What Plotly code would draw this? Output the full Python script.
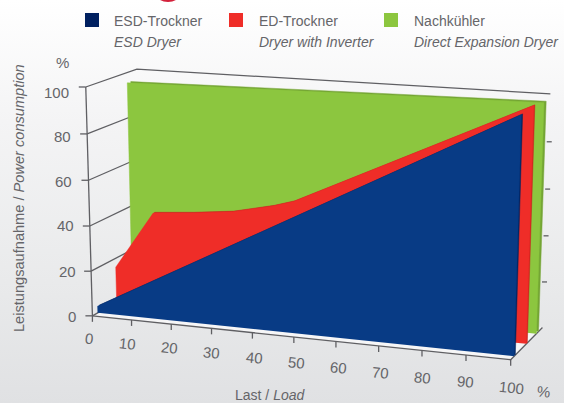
import numpy as np
import plotly.graph_objects as go

# Chart data: percentage power consumption against percentage load
load_esd = [0, 100]
power_esd = [3, 99]
load_ed = [0, 10, 20, 30, 40, 45, 100]
power_ed = [16, 42, 43.5, 45.5, 49.5, 52.2, 99.5]
load_dx = [0, 100]
power_dx = [95.5, 98]

x_ticks = [0, 10, 20, 30, 40, 50, 60, 70, 80, 90, 100]
y_ticks = [0, 20, 40, 60, 80, 100]

series_names = ["ESD-Trockner", "ED-Trockner", "Nachkühler"]
series_names_en = ["ESD Dryer", "Dryer with Inverter", "Direct Expansion Dryer"]

BLUE, BLUE_DARK = "#083b85", "#04245f"
RED, RED_DARK = "#ef2d28", "#c9251f"
GREEN, GREEN_DARK = "#8cc63f", "#74a534"
AXIS = "#5f5f63"
TEXT = "#656569"
FONT = "Liberation Sans"

# Perspective camera fitted to the box corners (load, power, depth) -> page pixels
box_points = [
    (0, 0, 0, 93, 313), (100, 0, 0, 511, 362), (0, 100, 0, 85, 88),
    (0, 100, 1, 138, 68), (100, 100, 1, 550, 94), (100, 0, 1, 542, 325),
    (50, 0, 0, 294, 337), (0, 0, 1, 141, 291), (0, 40, 0, 90, 225),
    (0, 60, 0, 88, 181), (100, 40, 1, 546, 236),
]
rows, rhs = [], []
for u, v, d, px, py in box_points:
    rows.append([u, v, d, 1, 0, 0, 0, 0, -px * u, -px * v, -px * d])
    rows.append([0, 0, 0, 0, u, v, d, 1, -py * u, -py * v, -py * d])
    rhs += [px, py]
camera = np.append(np.linalg.lstsq(np.array(rows, float), np.array(rhs, float), rcond=None)[0], 1).reshape(3, 4)


def project(u, v, d):
    p = camera @ np.array([u, v, d, 1.0])
    return p[0] / p[2], p[1] / p[2]


def path(points):
    xy = [project(*p) for p in points]
    return [a for a, _ in xy], [b for _, b in xy]


fig = go.Figure()


def polygon(points, color):
    x, y = path(points)
    fig.add_trace(go.Scatter(x=x, y=y, mode="lines", fill="toself", fillcolor=color,
                             line=dict(color=color, width=0.5), hoverinfo="skip", showlegend=False))


def segment(points, width=1.3):
    x, y = path(points)
    fig.add_trace(go.Scatter(x=x, y=y, mode="lines", line=dict(color=AXIS, width=width),
                             hoverinfo="skip", showlegend=False))


def area(load, power, depth, thickness, face, side):
    # Extruded area: darker rear face first, front face on top
    for d, color in ((depth + thickness, side), (depth, face)):
        pts = [(load[0], 0, d)] + [(u, v, d) for u, v in zip(load, power)] + [(load[-1], 0, d)]
        polygon(pts, color)


# Page background
fig.add_trace(go.Scatter(
    x=[0, 564, 564, 0, 0], y=[0, 0, 403, 403, 0], mode="lines", fill="toself", line=dict(width=0),
    fillgradient=dict(type="vertical", start=0, stop=403,
                      colorscale=[[0, "#ffffff"], [0.3, "#f4f4f5"], [0.7, "#e9eaeb"], [1, "#e0e1e3"]]),
    hoverinfo="skip", showlegend=False))

# Floor, walls and gridlines
polygon([(0, 0, 0), (100, 0, 0), (100, 0, 1), (0, 0, 1)], "#f6f6f7")
for t in y_ticks:
    segment([(0, t, 0), (0, t, 1)] + ([(100, t, 1)] if t == 100 else []))
segment([(0, 0, 0), (0, 100, 0)])
segment([(0, 0, 0), (100, 0, 0), (100, 0, 1)])

# Ticks on both ends of the power axis and below the load axis
for t in y_ticks:
    px, py = project(0, t, 0)
    fig.add_trace(go.Scatter(x=[px - 7, px], y=[py, py], mode="lines", line=dict(color=AXIS, width=1.3),
                             hoverinfo="skip", showlegend=False))
    if 0 < t < 100:
        px, py = project(100, t, 1)
        fig.add_trace(go.Scatter(x=[px - 2, px + 3], y=[py, py], mode="lines", line=dict(color=AXIS, width=1.3),
                                 hoverinfo="skip", showlegend=False))
for t in x_ticks:
    px, py = project(t, 0, 0)
    fig.add_trace(go.Scatter(x=[px, px], y=[py, py + 6], mode="lines", line=dict(color=AXIS, width=1.3),
                             hoverinfo="skip", showlegend=False))

# The three areas, from the rear one forward
area(load_dx, power_dx, 0.80, 0.07, GREEN, GREEN_DARK)
area(load_ed, power_ed, 0.48, 0.03, RED, RED_DARK)
area(load_esd, power_esd, 0.105, 0.035, BLUE, BLUE_DARK)

# Legend
swatch_x = [92, 236, 391]
text_x = [112, 257, 412]
fig.add_trace(go.Scatter(x=swatch_x, y=[20, 20, 20], mode="markers",
                         marker=dict(symbol="square", size=14, color=["#002060", RED, GREEN]),
                         hoverinfo="skip", showlegend=False))

annotations = []


def label(x, y, text, size=14, angle=0, anchor="center"):
    annotations.append(dict(x=x, y=y, xref="x", yref="y", text=text, showarrow=False, textangle=angle,
                            xanchor=anchor, yanchor="middle",
                            font=dict(family=FONT, size=size, color=TEXT)))


for tx, name, name_en in zip(text_x, series_names, series_names_en):
    label(tx, 21, name, anchor="left")
    label(tx, 42, f"<i>{name_en}</i>", anchor="left")

for t, tx, ty in zip(y_ticks, [72, 67, 65, 63, 62, 56], [316, 271, 225, 181, 136, 92]):
    label(tx, ty, str(t), size=15)
for t, tx, ty in zip(x_ticks, [89, 127, 169, 211, 254, 296, 338, 380, 422, 465, 511],
                     [338, 343, 347, 352, 357, 362, 367, 372, 377, 381, 387]):
    label(tx, ty, str(t), size=15, angle=6)
label(62, 62, "%", size=15)
label(543, 391, "%", size=15, angle=6)
label(19, 198, "Leistungsaufnahme / <i>Power consumption</i>", size=14.6, angle=-90)
label(270, 395, "Last / <i>Load</i>", size=14)

fig.update_layout(
    width=564, height=403, margin=dict(l=0, r=0, t=0, b=0),
    paper_bgcolor="white", plot_bgcolor="white", showlegend=False,
    xaxis=dict(range=[0, 564], visible=False),
    yaxis=dict(range=[403, 0], visible=False),
    annotations=annotations,
    shapes=[dict(type="circle", xref="x", yref="y", x0=156, x1=180, y0=-14, y1=2,
                 fillcolor="#d3213a", line=dict(width=0))],
)
fig.write_html("out.html", config={"displayModeBar": False})
